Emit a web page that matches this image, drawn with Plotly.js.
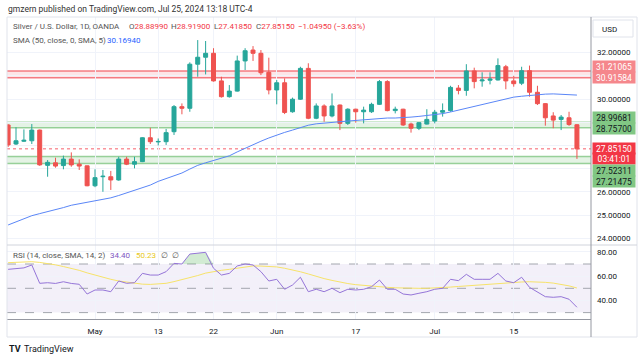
<!DOCTYPE html>
<html><head><meta charset="utf-8">
<script src="https://cdn.plot.ly/plotly-3.0.1.min.js"></script>
<style>html,body{margin:0;padding:0;background:#fff}#chart{width:643px;height:361px}</style>
</head><body><div id="chart"></div>
<script>
const dates = [
'2024-04-16','2024-04-17','2024-04-18','2024-04-19','2024-04-22','2024-04-23','2024-04-24','2024-04-25','2024-04-26','2024-04-29','2024-04-30',
'2024-05-01','2024-05-02','2024-05-03','2024-05-06','2024-05-07','2024-05-08','2024-05-09','2024-05-10','2024-05-13','2024-05-14','2024-05-15','2024-05-16','2024-05-17','2024-05-20','2024-05-21','2024-05-22','2024-05-23','2024-05-24','2024-05-27','2024-05-28','2024-05-29','2024-05-30','2024-05-31',
'2024-06-03','2024-06-04','2024-06-05','2024-06-06','2024-06-07','2024-06-10','2024-06-11','2024-06-12','2024-06-13','2024-06-14','2024-06-17','2024-06-18','2024-06-19','2024-06-20','2024-06-21','2024-06-24','2024-06-25','2024-06-26','2024-06-27','2024-06-28',
'2024-07-01','2024-07-02','2024-07-03','2024-07-04','2024-07-05','2024-07-08','2024-07-09','2024-07-10','2024-07-11','2024-07-12','2024-07-15','2024-07-16','2024-07-17','2024-07-18','2024-07-19','2024-07-22','2024-07-23','2024-07-24','2024-07-25'];

const openP  = [28.88,28.06,28.18,28.20,28.66,27.14,27.25,27.13,27.41,27.19,27.12,26.26,26.65,26.65,26.51,27.41,27.19,27.30,28.33,28.15,28.16,28.59,29.67,29.60,31.50,31.80,31.97,30.78,30.10,30.34,31.64,32.11,31.97,31.15,30.39,30.70,29.45,29.99,31.32,29.17,29.70,29.27,29.74,28.95,29.56,29.45,29.45,29.77,30.75,29.50,29.56,28.92,28.74,28.92,29.05,29.43,29.50,30.47,30.37,31.21,30.78,30.81,30.82,31.39,30.78,30.68,31.22,30.29,29.80,29.27,29.12,29.19,28.8899];
const highP  = [28.92,28.78,28.69,28.92,28.68,27.37,27.47,27.56,27.70,27.40,27.13,26.97,26.94,26.90,27.51,27.51,27.51,28.35,28.76,28.30,28.71,29.74,29.81,31.58,32.54,32.50,32.19,30.96,30.60,31.87,32.19,32.28,32.11,31.78,30.82,30.89,30.06,31.39,31.54,29.81,29.77,30.24,29.76,29.60,29.58,29.67,29.84,30.82,30.81,29.67,29.58,28.98,29.00,29.56,29.53,29.81,30.57,30.60,31.50,31.35,31.15,31.15,31.75,31.47,31.00,31.39,31.44,30.57,29.82,29.43,29.31,29.45,28.919];
const lowP   = [27.93,28.02,28.15,28.06,27.12,26.65,27.04,26.97,27.08,26.94,26.24,26.20,26.00,26.08,26.48,27.15,27.01,27.28,28.06,28.00,28.02,28.45,29.34,29.45,30.96,31.06,30.75,30.06,30.06,30.32,31.25,31.64,31.03,30.20,29.77,29.35,29.41,29.96,29.13,29.13,29.02,29.21,28.66,28.88,28.98,28.95,29.40,29.74,29.47,29.38,28.84,28.55,28.66,28.90,28.95,29.24,29.45,30.20,30.14,30.46,30.53,30.63,30.80,30.42,30.53,30.60,30.10,29.74,28.85,28.74,28.66,28.84,27.4185];
const closeP = [28.02,28.20,28.22,28.66,27.16,27.27,27.11,27.41,27.16,27.11,26.26,26.61,26.67,26.51,27.41,27.19,27.30,28.33,28.16,28.17,28.55,29.67,29.60,31.50,31.80,31.97,30.78,30.10,30.34,31.64,32.08,31.97,31.13,30.39,30.70,29.42,29.99,31.32,29.17,29.70,29.27,29.70,28.95,29.56,29.45,29.52,29.77,30.75,29.50,29.56,28.88,28.74,28.98,29.12,29.43,29.50,30.50,30.37,31.21,30.75,30.82,30.86,31.44,30.78,30.66,31.22,30.29,29.80,29.19,29.09,29.22,28.901,27.8515];

const sma50 = [24.57,24.70,24.84,24.97,25.06,25.14,25.22,25.32,25.42,25.48,25.54,25.60,25.66,25.74,25.84,25.95,26.05,26.17,26.29,26.45,26.58,26.70,26.81,26.98,27.14,27.25,27.35,27.45,27.55,27.72,27.88,28.05,28.18,28.32,28.45,28.56,28.66,28.77,28.87,28.93,28.97,29.00,29.02,29.05,29.08,29.11,29.14,29.17,29.18,29.18,29.19,29.22,29.25,29.28,29.32,29.37,29.44,29.52,29.60,29.69,29.78,29.86,29.95,30.03,30.08,30.12,30.16,30.19,30.21,30.22,30.21,30.19,30.1694];

const rsi = [65.6,66.2,66.8,69.2,54.1,54.6,54.0,55.4,54.0,53.3,45.3,48.6,48.6,47.2,56.0,54.1,54.6,62.3,60.9,60.9,63.7,70.5,70.0,78.2,78.8,79.6,66.5,60.9,62.3,68.4,70.0,69.2,63.7,56.0,57.4,49.2,52.7,59.1,47.2,49.2,47.2,50.0,46.4,49.2,48.6,49.2,51.3,56.8,49.2,49.2,45.3,44.5,45.9,47.2,49.2,50.0,57.4,56.3,61.5,57.4,57.4,57.4,62.3,56.0,54.6,59.1,50.8,47.2,43.1,42.6,43.1,41.0,34.40];
const rsiSma = [71.1,71.4,71.7,71.9,71.3,70.6,69.3,67.9,66.5,64.8,62.7,60.8,59.0,57.4,56.0,55.0,54.0,53.4,53.2,53.5,54.1,55.5,57.0,58.5,60.5,62.5,63.9,64.8,65.6,66.6,67.7,68.4,68.3,68.0,67.6,66.5,65.2,63.6,61.8,59.8,58.0,56.5,55.0,53.9,53.0,52.3,51.8,51.3,50.8,50.4,50.1,50.0,50.0,50.0,50.2,50.6,51.0,51.5,52.0,52.6,53.2,53.6,54.0,54.4,54.8,55.2,55.4,55.3,54.9,54.3,53.4,52.0,50.23];

const zoneRed = [30.91584, 31.21065];
const zoneGreenHi = [28.75700, 28.99681];
const zoneGreenLo = [27.21475, 27.52311];

const xTickVals = ['2024-05-01','2024-05-13','2024-05-22','2024-06-03','2024-06-17','2024-07-01','2024-07-15'];
const xTickText = ['May','13','22','Jun','17','Jul','15'];
const priceTicks = [24,25,26,27,28,29,30,31,32];
const priceTickShown = [24,25,26,30,32];
const rsiTicks = [40,60,80];

const W = 643, H = 361;
const px = x => x / W, py = y => 1 - y / H;
const FONT = 'Roboto, "Noto Sans", sans-serif';
const last = closeP.length - 1;

const traces = [
  {type:'candlestick', x:dates, open:openP, high:highP, low:lowP, close:closeP,
   increasing:{line:{color:'#26a69a', width:1}, fillcolor:'#26a69a'},
   decreasing:{line:{color:'#ef5350', width:1}, fillcolor:'#ef5350'},
   whiskerwidth:0, hoverinfo:'skip', xaxis:'x', yaxis:'y'},
  {type:'scatter', mode:'lines', x:dates, y:sma50, line:{color:'#5a86f7', width:1}, hoverinfo:'skip', xaxis:'x', yaxis:'y'},
  {type:'scatter', mode:'lines', x:dates, y:rsi.map(()=>70), line:{width:0, color:'rgba(0,0,0,0)'}, hoverinfo:'skip', xaxis:'x', yaxis:'y2'},
  {type:'scatter', mode:'lines', x:dates, y:rsi.map(v=>Math.max(v,70)), fill:'tonexty', fillcolor:'rgba(76,175,80,0.25)', line:{width:0, color:'rgba(0,0,0,0)'}, hoverinfo:'skip', xaxis:'x', yaxis:'y2'},
  {type:'scatter', mode:'lines', x:dates, y:rsiSma, line:{color:'#f7e36a', width:1}, hoverinfo:'skip', xaxis:'x', yaxis:'y2'},
  {type:'scatter', mode:'lines', x:dates, y:rsi, line:{color:'#9575d8', width:1}, hoverinfo:'skip', xaxis:'x', yaxis:'y2'}
];

const shapes = [];
function band(z, fill, lc){
  shapes.push({type:'rect', xref:'x domain', x0:0, x1:1, yref:'y', y0:z[0], y1:z[1], fillcolor:fill, line:{width:0}, layer:'below'});
  z.forEach(v => shapes.push({type:'line', xref:'x domain', x0:0, x1:1, yref:'y', y0:v, y1:v, line:{color:lc, width:1.5}, layer:'below'}));
}
band(zoneRed, 'rgba(242,54,69,0.13)', 'rgba(242,84,94,0.75)');
band(zoneGreenHi, 'rgba(76,175,80,0.15)', 'rgba(76,175,80,0.55)');
band(zoneGreenLo, 'rgba(76,175,80,0.15)', 'rgba(76,175,80,0.55)');
shapes.push({type:'line', xref:'x domain', x0:0, x1:1, yref:'y', y0:closeP[last], y1:closeP[last], line:{color:'rgba(242,54,69,0.8)', width:1, dash:'dot'}, layer:'below'});
shapes.push({type:'rect', xref:'x domain', x0:0, x1:1, yref:'y2', y0:30, y1:70, fillcolor:'rgba(126,87,194,0.09)', line:{width:0}, layer:'below'});
[70,50,30].forEach(v => shapes.push({type:'line', xref:'x domain', x0:0, x1:1, yref:'y2', y0:v, y1:v, line:{color:'#a3a6ae', width:1, dash:'dash'}, layer:'below'}));
shapes.push({type:'rect', xref:'paper', yref:'paper', x0:px(7), x1:px(637), y0:py(337), y1:py(17), line:{color:'#e0e3eb', width:1}});
shapes.push({type:'line', xref:'paper', yref:'paper', x0:px(7), x1:px(637), y0:py(245), y1:py(245), line:{color:'#d1d4dc', width:1}});
shapes.push({type:'line', xref:'paper', yref:'paper', x0:px(591), x1:px(591), y0:py(337), y1:py(17), line:{color:'#9598a1', width:1}});
shapes.push({type:'rect', xref:'paper', yref:'paper', x0:px(593), x1:px(633), y0:py(37), y1:py(20), line:{color:'#e0e3eb', width:1}});

const ann = [];
function txt(t, x, y, color, size, extra){
  ann.push(Object.assign({text:t, xref:'paper', yref:'paper', x:px(x), y:py(y), xanchor:'left', yanchor:'middle', showarrow:false, font:{family:FONT, size:size||8, color:color||'#555'}}, extra||{}));
}
const red = '#f23645';
txt('gmzern published on TradingView.com, Jul 25, 2024 13:18 UTC-4', 6, 9, '#333', 8.5);
txt('Silver / U.S. Dollar, 1D, OANDA', 11, 27, '#555');
txt('O<span style="color:'+red+'">'+openP[last].toFixed(5)+'</span>', 127, 27, '#555');
txt('H<span style="color:'+red+'">'+highP[last].toFixed(5)+'</span>', 169, 27, '#555');
txt('L<span style="color:'+red+'">'+lowP[last].toFixed(5)+'</span>', 212, 27, '#555');
txt('C<span style="color:'+red+'">'+closeP[last].toFixed(5)+'</span>', 254, 27, '#555');
const chg = closeP[last] - closeP[last-1];
txt('\u2212'+Math.abs(chg).toFixed(5)+' (\u2212'+Math.abs(chg/closeP[last-1]*100).toFixed(2)+'%)', 296, 27, red);
txt('SMA (50, close, 0, SMA, 5)', 11, 40, '#555');
txt(sma50[last].toFixed(5), 105, 40, '#2962ff');
txt('RSI (14, close, SMA, 14, 2)', 11, 255, '#555');
txt(rsi[last].toFixed(2), 108, 255, '#7e57c2');
txt(rsiSma[last].toFixed(2), 134, 255, '#e8c81a');
txt('\u2205  \u2205', 159, 255, '#555');
txt('USD', 600, 29, '#131722', 8);
txt('<b>TV</b>', 7, 349, '#131722', 9);
txt('TradingView', 22, 349, '#131722', 9);

function badge(t, y, bg, fg){
  ann.push({text:t, xref:'paper', yref:'paper', x:px(591.5), y:py(y), xanchor:'left', yanchor:'middle', showarrow:false,
    bgcolor:bg, width:42, height:11, borderpad:0, align:'center', font:{family:FONT, size:8.5, color:fg}});
}
badge(zoneRed[1].toFixed(5), 66.5, '#f5878c', '#ffffff');
badge(zoneRed[0].toFixed(5), 78, '#f5878c', '#ffffff');
badge(zoneGreenHi[1].toFixed(5), 117, '#81c784', '#131722');
badge(zoneGreenHi[0].toFixed(5), 128.5, '#81c784', '#131722');
badge(closeP[last].toFixed(5), 148.5, '#f23645', '#ffffff');
badge('03:41:01', 158, '#f23645', '#ffffff');
badge(zoneGreenLo[1].toFixed(5), 170.5, '#81c784', '#131722');
badge(zoneGreenLo[0].toFixed(5), 181.5, '#81c784', '#131722');

const priceTop = 30 + (99-17)/23.2, priceBot = 30 - (245-99)/23.2;
const rsiTop = 70 + (264-245)/1.215, rsiBot = 70 - (319-264)/1.215;

const layout = {
  width:W, height:H, margin:{l:0,r:0,t:0,b:0}, paper_bgcolor:'#fff', plot_bgcolor:'#fff',
  showlegend:false, dragmode:false, boxgap:0.28,
  font:{family:FONT, size:8, color:'#131722'},
  xaxis:{type:'category', domain:[px(7), px(591)], anchor:'y2', range:[-0.14, 73.78],
    tickvals:xTickVals, ticktext:xTickText, showgrid:true, gridcolor:'#f0f3fa', gridwidth:1,
    showline:true, linecolor:'#9598a1', linewidth:1, ticks:'', ticklabelstandoff:4,
    tickfont:{family:FONT, size:8, color:'#131722'}, rangeslider:{visible:false}, zeroline:false, fixedrange:true},
  yaxis:{domain:[py(245), py(17)], anchor:'x', side:'right', range:[priceBot, priceTop],
    tickvals:priceTicks, ticktext:priceTicks.map(v => priceTickShown.includes(v) ? v.toFixed(5) : ''),
    showgrid:true, gridcolor:'#f0f3fa', gridwidth:1, zeroline:false, ticks:'', ticklabelstandoff:5,
    tickfont:{family:FONT, size:8, color:'#131722'}, fixedrange:true},
  yaxis2:{domain:[py(319), py(245)], anchor:'x', side:'right', range:[rsiBot, rsiTop],
    tickvals:rsiTicks, ticktext:rsiTicks.map(v => v.toFixed(2)),
    showgrid:true, gridcolor:'#f0f3fa', gridwidth:1, zeroline:false, ticks:'', ticklabelstandoff:5,
    tickfont:{family:FONT, size:8, color:'#131722'}, fixedrange:true},
  shapes:shapes, annotations:ann
};
Plotly.newPlot('chart', traces, layout, {displayModeBar:false, staticPlot:true});
</script></body></html>
